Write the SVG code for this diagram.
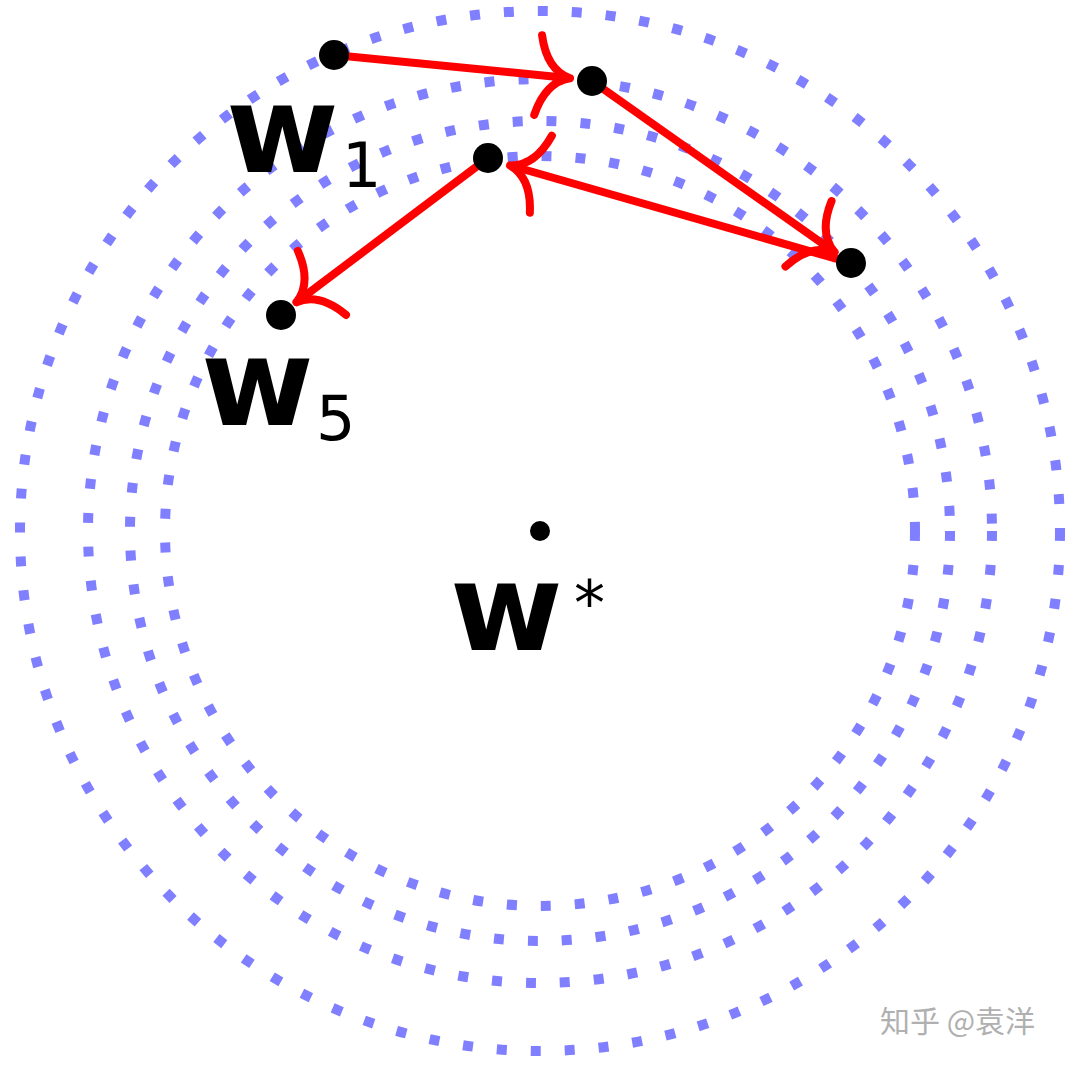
<svg xmlns="http://www.w3.org/2000/svg" width="1078" height="1066" viewBox="0 0 1078 1066">
<style>
.ring{fill:none;stroke:#7f7fff;stroke-width:10;stroke-dasharray:10 24}
.arr{fill:none;stroke:#ff0000;stroke-width:8;marker-end:url(#hook)}
.lbl{font-family:"DejaVu Sans","Liberation Sans",sans-serif;fill:#000}
</style>
<defs>
<marker id="hook" markerUnits="userSpaceOnUse" orient="auto" markerWidth="80" markerHeight="100" refX="0" refY="0" viewBox="-40 -50 80 100" overflow="visible">
<path d="M-30,-40 Q-22,-6 2,0 M-30,40 Q-22,6 2,0" fill="none" stroke="#ff0000" stroke-width="8" stroke-linecap="round"/>
</marker>
</defs>
<rect width="1078" height="1066" fill="#fff"/>
<g id="rings">
<circle class="ring" cx="540" cy="531" r="520"/>
<circle class="ring" cx="540" cy="531" r="452"/>
<circle class="ring" cx="540" cy="531" r="410"/>
<circle class="ring" cx="540" cy="531" r="375"/>
</g>
<g id="connectors">
<line class="arr" x1="334" y1="55" x2="568" y2="78"/>
<line class="arr" x1="592" y1="81" x2="833" y2="251"/>
<line class="arr" x1="851" y1="263" x2="512" y2="166"/>
<line class="arr" x1="488" y1="158" x2="298" y2="301"/>
</g>
<g id="p1"><circle cx="334" cy="55" r="15"/></g>
<g id="p2"><circle cx="592" cy="81" r="15"/></g>
<g id="p3"><circle cx="851" cy="263" r="15"/></g>
<g id="p4"><circle cx="488" cy="158" r="15"/></g>
<g id="p5"><circle cx="281" cy="315" r="15"/></g>
<g id="wstar"><circle cx="540" cy="531" r="10"/></g>
<g id="labels">
<text class="lbl" x="226" y="172" font-size="122" font-weight="bold">w</text>
<text class="lbl" x="342" y="187" font-size="62">1</text>
<text class="lbl" x="201" y="425" font-size="122" font-weight="bold">w</text>
<text class="lbl" x="316" y="440" font-size="62">5</text>
<text class="lbl" x="450" y="650" font-size="122" font-weight="bold">w</text>
<text class="lbl" x="574" y="625" font-size="62">*</text>
<text x="880" y="1032" font-size="30" fill="#b0b0b0" font-family="'Noto Sans CJK SC',sans-serif">知乎 @袁洋</text>
</g>
</svg>
